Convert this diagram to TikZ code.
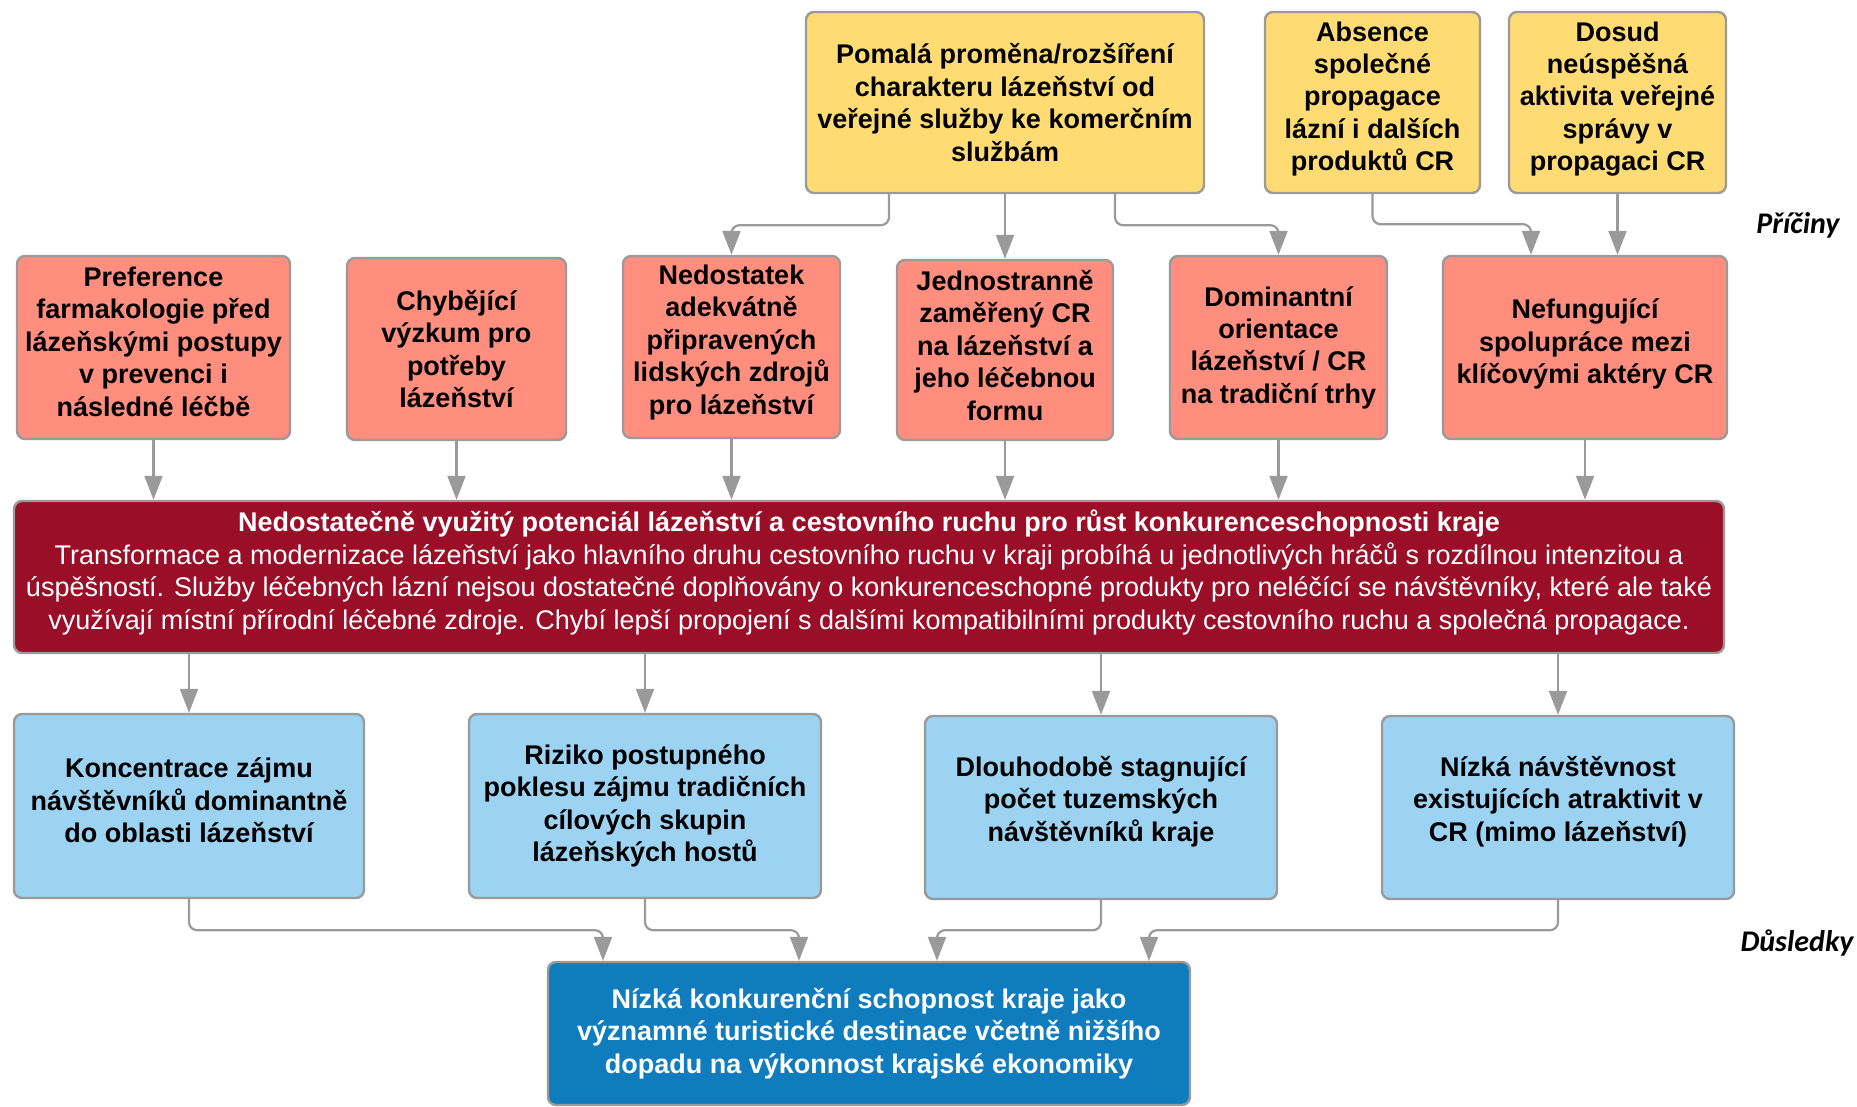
\documentclass[tikz,border=0pt]{standalone}
\usepackage{fontspec}
\setmainfont{Liberation Sans}
\newfontfamily\tagfont{Carlito}
\usetikzlibrary{arrows.meta}
\definecolor{zluta}{HTML}{FFDC73}
\definecolor{losos}{HTML}{FF8E7F}
\definecolor{vinova}{HTML}{9A0E27}
\definecolor{nebe}{HTML}{9CD2F2}
\definecolor{modra}{HTML}{0F7CBD}
\definecolor{sedy}{HTML}{9A9A9A}
\def\conn{\draw[arr]}
\tikzset{
  box/.style={draw=sedy,line width=1.2pt,rounded corners=4pt,align=center,
    inner sep=2pt,font=\fontsize{13.5}{16.2}\selectfont\bfseries},
  pricina/.style={box,fill=zluta},
  problem/.style={box,fill=losos},
  jadro/.style={box,fill=vinova,text=white,font=\fontsize{13.5}{16.3}\selectfont},
  dusledek/.style={box,fill=nebe},
  konec/.style={box,fill=modra,text=white},
  arr/.style={draw=sedy,line width=1.1pt,rounded corners=4pt,
    -{Triangle[length=12pt,width=9pt]}},
  stitek/.style={font=\tagfont\fontsize{15}{18}\selectfont\bfseries\itshape}
}
\begin{document}
\begin{tikzpicture}[x=0.5pt,y=-0.5pt]
\useasboundingbox (0,0) rectangle (1857,1107);
\node[pricina,minimum width=199pt,minimum height=90.5pt] (pomala) at (1005,102.5)
  {Pomalá proměna/rozšíření\\charakteru lázeňství od\\veřejné služby ke komerčním\\službám};
\node[pricina,minimum width=107.5pt,minimum height=90.5pt,text depth=6.4pt] (absence) at (1372.5,102.5)
  {Absence\\společné\\propagace\\lázní i dalších\\produktů CR};
\node[pricina,minimum width=108.5pt,minimum height=90.5pt,text depth=6.4pt] (dosud) at (1617.5,102.5)
  {Dosud\\neúspěšná\\aktivita veřejné\\správy v\\propagaci CR};
\node[stitek] (priciny) at (1798,225) {Příčiny};

\node[problem,minimum width=136.5pt,minimum height=91.5pt,text depth=5.9pt] (pref) at (153.5,347.5)
  {Preference\\farmakologie před\\lázeňskými postupy\\v prevenci i\\následné léčbě};
\node[problem,minimum width=109.5pt,minimum height=91pt] (chyb) at (456.5,349)
  {Chybějící\\výzkum pro\\potřeby\\lázeňství};
\node[problem,minimum width=108.5pt,minimum height=91pt,text depth=7.5pt] (nedost) at (731.5,347)
  {Nedostatek\\adekvátně\\připravených\\lidských zdrojů\\pro lázeňství};
\node[problem,minimum width=108pt,minimum height=90pt,text depth=4.7pt] (jedn) at (1005,350)
  {Jednostranně\\zaměřený CR\\na lázeňství a\\jeho léčebnou\\formu};
\node[problem,minimum width=108.5pt,minimum height=91.5pt] (domin) at (1278.5,347.5)
  {Dominantní\\orientace\\lázeňství / CR\\na tradiční trhy};
\node[problem,minimum width=142pt,minimum height=91.5pt,text depth=6.4pt] (nefung) at (1585,347.5)
  {Nefungující\\spolupráce mezi\\klíčovými aktéry CR};

\node[jadro,minimum width=855pt,minimum height=76pt,text depth=7.5pt] (hlavni) at (869,577)
  {{\bfseries Nedostatečně využitý potenciál lázeňství a cestovního ruchu pro růst konkurenceschopnosti kraje}\\
  Transformace a modernizace lázeňství jako hlavního druhu cestovního ruchu v kraji probíhá u jednotlivých hráčů s rozdílnou intenzitou a\\
  úspěšností. Služby léčebných lázní nejsou dostatečné doplňovány o konkurenceschopné produkty pro neléčící se návštěvníky, které ale také\\
  využívají místní přírodní léčebné zdroje. Chybí lepší propojení s dalšími kompatibilními produkty cestovního ruchu a společná propagace.};

\node[dusledek,minimum width=175pt,minimum height=92pt,text depth=5.9pt] (konc) at (189,806)
  {Koncentrace zájmu\\návštěvníků dominantně\\do oblasti lázeňství};
\node[dusledek,minimum width=176pt,minimum height=92pt] (riziko) at (645,806)
  {Riziko postupného\\poklesu zájmu tradičních\\cílových skupin\\lázeňských hostů};
\node[dusledek,minimum width=176pt,minimum height=91.5pt,text depth=8.7pt] (dlouh) at (1101,807.5)
  {Dlouhodobě stagnující\\počet tuzemských\\návštěvníků kraje};
\node[dusledek,minimum width=176pt,minimum height=91.5pt,text depth=8.7pt] (nizka) at (1558,807.5)
  {Nízká návštěvnost\\existujících atraktivit v\\CR (mimo lázeňství)};
\node[stitek] (dusledky) at (1797,943) {Důsledky};

\node[konec,minimum width=321pt,minimum height=71.5pt] (vysledek) at (869,1033.5)
  {Nízká konkurenční schopnost kraje jako\\významné turistické destinace včetně nižšího\\dopadu na výkonnost krajské ekonomiky};

\conn ([xshift=-58pt]pomala.south) -- ++(0,31) -| (nedost.north);
\conn (pomala.south) -- (jedn.north);
\conn ([xshift=55pt]pomala.south) -- ++(0,31) -| (domin.north);
\conn (absence.south) -- ++(0,30) -| ([xshift=-27pt]nefung.north);
\conn (dosud.south) -- (dosud.south |- nefung.north);
\foreach \p in {pref,chyb,nedost,jedn,domin,nefung}
  \conn (\p.south) -- (\p.south |- hlavni.north);
\foreach \d in {konc,riziko,dlouh,nizka}
  \conn (hlavni.south -| \d.north) -- (\d.north);
\conn (konc.south) -- ++(0,31) -| ([xshift=-133pt]vysledek.north);
\conn (riziko.south) -- ++(0,31) -| ([xshift=-35pt]vysledek.north);
\conn (dlouh.south) -- ++(0,30) -| ([xshift=34pt]vysledek.north);
\conn (nizka.south) -- ++(0,30) -| ([xshift=140pt]vysledek.north);
\end{tikzpicture}
\end{document}
